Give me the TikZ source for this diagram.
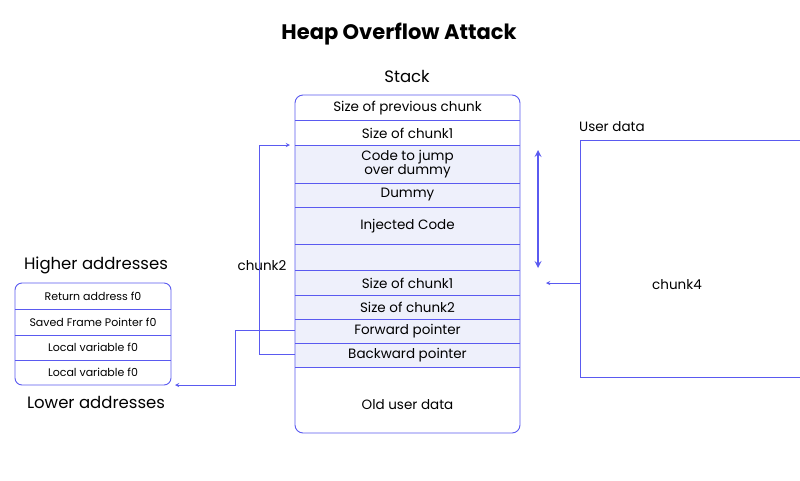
\documentclass[tikz,border=0pt]{standalone}
\usepackage{fontspec}
\setmainfont{Poppins}
\begin{document}
\begin{tikzpicture}[x=1pt,y=-1pt,
  lbl/.style={font=\fontsize{13.5}{15}\selectfont, align=center, inner sep=0},
  sm/.style={font=\fontsize{11}{12}\selectfont, inner sep=0}]
\definecolor{shadecol}{RGB}{238,240,251}
\definecolor{mybl}{RGB}{90,90,240}
\useasboundingbox (0,0) rectangle (800,480);
\fill[white] (0,0) rectangle (800,480);
% stack
\fill[shadecol] (295,145) rectangle (520,367);
\draw[mybl,line width=0.9pt,rounded corners=8pt] (295,95) rectangle (520,433);
\foreach \y in {120,145,183,207,244,270,295,319,343,367}
  \draw[mybl,line width=0.7pt] (295,\y) -- (520,\y);
\node[lbl] (s1) at (407.5,108) {Size of previous chunk};
\node[lbl] (s2) at (407.5,133) {Size of chunk1};
\node[lbl] (s3) at (407.5,164) {Code to jump\\[-1pt]over dummy};
\node[lbl] (s4) at (407.5,195) {Dummy};
\node[lbl] (s5) at (407.5,226) {Injected Code};
\node[lbl] (s7) at (407.5,283) {Size of chunk1};
\node[lbl] (s8) at (407.5,307) {Size of chunk2};
\node[lbl] (s9) at (407.5,331) {Forward pointer};
\node[lbl] (s10) at (407.5,355) {Backward pointer};
\node[lbl] (s11) at (407.5,405) {Old user data};
\coordinate (bp) at (295,354);
\coordinate (fp) at (295,330);
\coordinate (c1) at (290,145);
% left box
\draw[mybl,line width=0.9pt,rounded corners=7pt] (15,283) rectangle (171,385);
\foreach \y in {309,335,360} \draw[mybl,line width=0.7pt] (15,\y) -- (171,\y);
\node[sm] (l1) at (93,296) {Return address f0};
\node[sm] (l2) at (93,322) {Saved Frame Pointer f0};
\node[sm] (l3) at (93,347.5) {Local variable f0};
\node[sm] (l4) at (93,372.5) {Local variable f0};
\coordinate (lb) at (175,385);
% texts
\node[font=\bfseries\fontsize{21}{24}\selectfont] (title) at (399,34) {Heap Overflow Attack};
\node[font=\fontsize{16.5}{18}\selectfont] (stack) at (407,76) {Stack};
\node[font=\fontsize{16.5}{18}\selectfont] (hi) at (96,265) {Higher addresses};
\node[font=\fontsize{16.5}{18}\selectfont] (lo) at (96,402) {Lower addresses};
\node[lbl, anchor=west] (ud) at (579,127) {User data};
\node[lbl] (c4) at (677,285) {chunk4};
\node[lbl] (c2) at (262,266) {chunk2};
% right box
\draw[mybl,line width=0.9pt] (805,140) -- (580,140) -- (580,377) -- (805,377);
\coordinate (ra) at (580,283);
\coordinate (rb) at (546,283);
% connectors
\draw[mybl,line width=0.9pt,->,>=stealth] (bp) -- (259,354) -- (259,145) -- (c1);
\draw[mybl,line width=0.9pt,->,>=stealth] (fp) -- (235,330) -- (235,385) -- (lb);
\draw[mybl,line width=0.9pt,->,>=stealth] (ra) -- (rb);
\coordinate (da) at (538,150);
\coordinate (db) at (538,268);
\draw[mybl,line width=2pt,<->,>=stealth] (da) -- (db);
\end{tikzpicture}
\end{document}
